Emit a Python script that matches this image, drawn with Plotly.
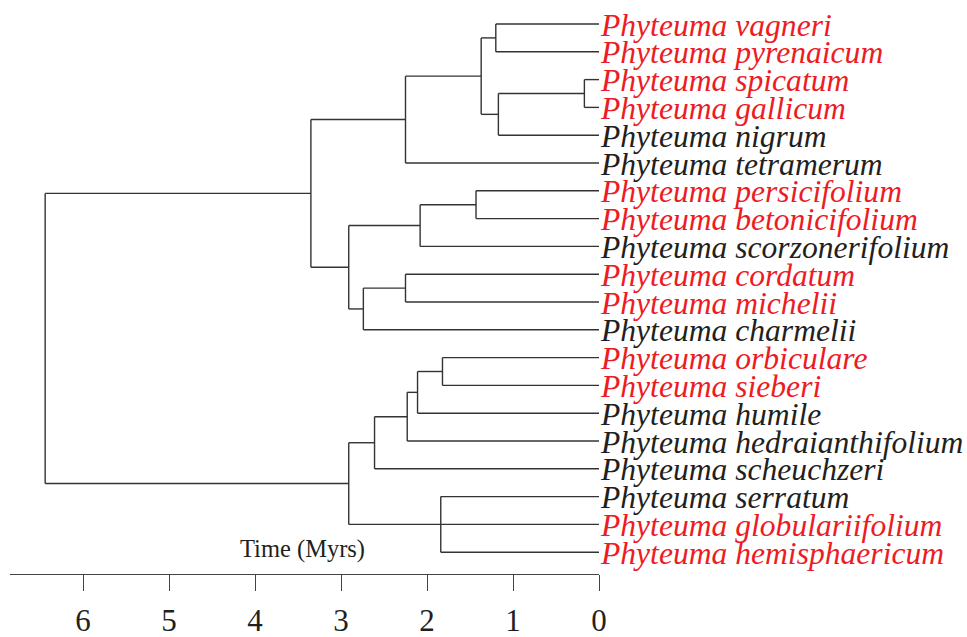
import plotly.graph_objects as go

# ---- data ----
leaves = ["vagneri", "pyrenaicum", "spicatum", "gallicum", "nigrum", "tetramerum",
          "persicifolium", "betonicifolium", "scorzonerifolium", "cordatum", "michelii",
          "charmelii", "orbiculare", "sieberi", "humile", "hedraianthifolium",
          "scheuchzeri", "serratum", "globulariifolium", "hemisphaericum"]
highlighted = ["vagneri", "pyrenaicum", "spicatum", "gallicum", "persicifolium",
               "betonicifolium", "cordatum", "michelii", "orbiculare", "sieberi",
               "globulariifolium", "hemisphaericum"]
genus = "Phyteuma"

node_names = ["n1", "n2", "n3", "n4", "n5", "n6", "n7", "n8", "n9", "n10",
              "n11", "n12", "n13", "n14", "n15", "n16", "n17", "root"]
node_children = [["vagneri", "pyrenaicum"], ["spicatum", "gallicum"], ["n2", "nigrum"],
                 ["n1", "n3"], ["n4", "tetramerum"], ["persicifolium", "betonicifolium"],
                 ["n6", "scorzonerifolium"], ["cordatum", "michelii"], ["n8", "charmelii"],
                 ["n7", "n9"], ["n5", "n10"], ["orbiculare", "sieberi"], ["n12", "humile"],
                 ["n13", "hedraianthifolium"], ["n14", "scheuchzeri"],
                 ["serratum", "globulariifolium", "hemisphaericum"], ["n15", "n16"],
                 ["n11", "n17"]]
node_ages = [1.20, 0.17, 1.17, 1.37, 2.25, 1.43, 2.08, 2.25, 2.74, 2.91,
             3.35, 1.82, 2.11, 2.23, 2.61, 1.84, 2.91, 6.44]
tick_vals = [0, 1, 2, 3, 4, 5, 6]

# ---- build tree geometry ----
pos = {name: (0.0, float(i)) for i, name in enumerate(leaves)}
for name, ch, age in zip(node_names, node_children, node_ages):
    ys = [pos[c][1] for c in ch]
    pos[name] = (age, (min(ys) + max(ys)) / 2)

xs, ys = [], []
for name, ch, age in zip(node_names, node_children, node_ages):
    cy = [pos[c][1] for c in ch]
    xs += [age, age, None]
    ys += [min(cy), max(cy), None]
    for c in ch:
        xs += [age, pos[c][0], None]
        ys += [pos[c][1], pos[c][1], None]

fig = go.Figure()
fig.add_trace(go.Scatter(x=xs, y=ys, mode="lines",
                         line=dict(color="#333333", width=1.4),
                         hoverinfo="skip", showlegend=False))

SERIF = "Liberation Serif"
for i, name in enumerate(leaves):
    col = "#ED1C24" if name in highlighted else "#231F20"
    fig.add_annotation(x=0, y=i, text=f"<i>{genus} {name}</i>", showarrow=False,
                       xanchor="left", yanchor="middle", xshift=-1, yshift=-1,
                       font=dict(family=SERIF, size=31.6, color=col))

fig.add_annotation(x=3.45, y=18.9, text="Time (Myrs)", showarrow=False,
                   xanchor="center", yanchor="middle",
                   font=dict(family=SERIF, size=24.5, color="#231F20"))

W, H = 967, 637
px_per = 86.0
x_zero_px = 599
plot_left = 10
y_top = -24 / 27.8
y_bot = (574 - 24) / 27.8

fig.update_layout(
    width=W, height=H,
    margin=dict(l=plot_left, r=W - x_zero_px, t=0, b=H - 574),
    paper_bgcolor="white", plot_bgcolor="white",
    xaxis=dict(range=[(x_zero_px - plot_left) / px_per, 0], showgrid=False,
               zeroline=False, showline=True, linecolor="#444444", linewidth=1.3,
               ticks="outside", ticklen=16, tickwidth=1.3, tickcolor="#444444",
               tickvals=tick_vals, ticklabelstandoff=3, automargin=False,
               tickfont=dict(family=SERIF, size=31, color="#231F20")),
    yaxis=dict(range=[y_bot, y_top], visible=False, showgrid=False, zeroline=False,
               automargin=False),
)

fig.write_html("out.html")
